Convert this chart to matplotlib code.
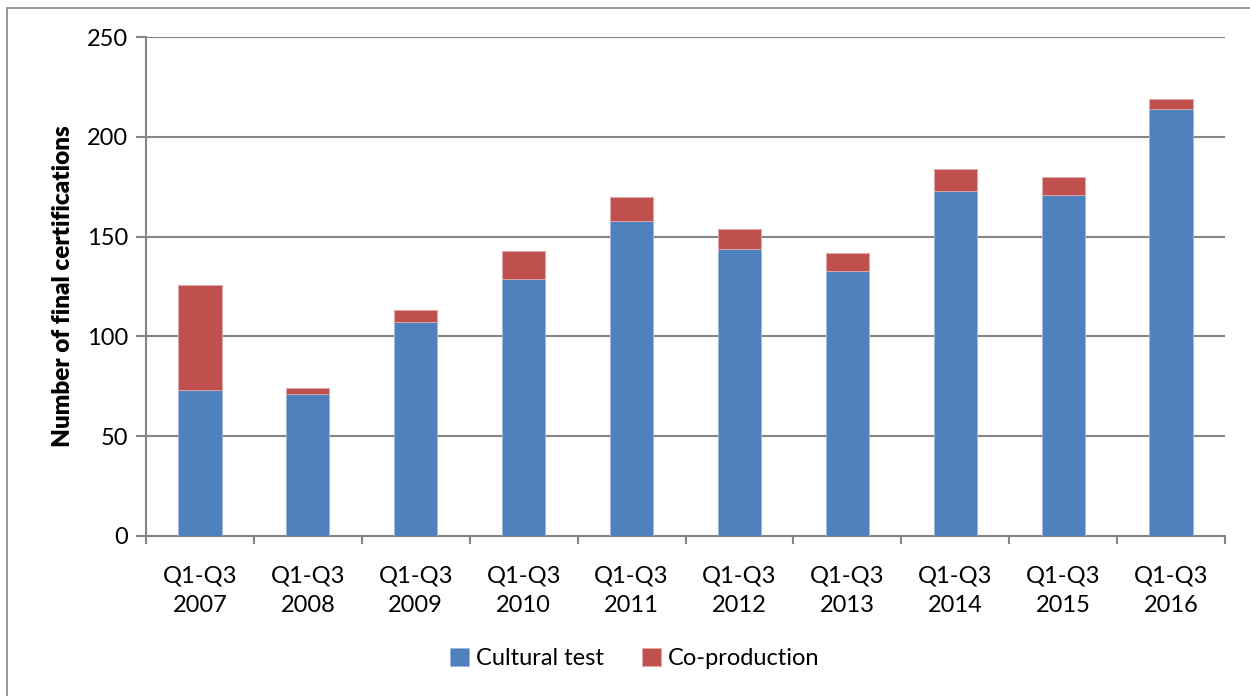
import matplotlib.pyplot as plt
from matplotlib.patches import Rectangle
import numpy as np

periods = ['Q1-Q3\n2007', 'Q1-Q3\n2008', 'Q1-Q3\n2009', 'Q1-Q3\n2010', 'Q1-Q3\n2011',
           'Q1-Q3\n2012', 'Q1-Q3\n2013', 'Q1-Q3\n2014', 'Q1-Q3\n2015', 'Q1-Q3\n2016']
cultural_test = [73, 71, 107, 129, 158, 144, 133, 173, 171, 214]
co_production = [53, 3, 6, 14, 12, 10, 9, 11, 9, 5]

plt.rcParams['font.family'] = ['Lato', 'DejaVu Sans']

fig = plt.figure(figsize=(12.5, 6.96), dpi=100)
ax = fig.add_axes([0.1168, 0.2299, 0.8632, 0.7169])

grey = '#868686'
x = np.arange(len(periods))
ax.bar(x, cultural_test, width=0.4, color='#4F81BD', edgecolor='#9DB7DA', linewidth=0.6,
       label='Cultural test', zorder=3)
ax.bar(x, co_production, width=0.4, bottom=cultural_test, color='#C0504D',
       edgecolor='#E0A9A8', linewidth=0.6, label='Co-production', zorder=3)

ax.set_xlim(-0.5, len(periods) - 0.5)
ax.set_ylim(0, 250)
ax.set_yticks(np.arange(0, 251, 50))
ax.yaxis.grid(True, color=grey, linewidth=1.5)
ax.set_axisbelow(True)

# category labels sit between the boundary ticks
ax.set_xticks(x)
ax.set_xticklabels(periods, fontsize=17, linespacing=1.5)
ax.tick_params(axis='x', which='major', length=0, pad=21)
ax.set_xticks(np.arange(-0.5, len(periods)), minor=True)
ax.tick_params(axis='x', which='minor', length=6, width=1.5, color=grey)
ax.tick_params(axis='y', length=7, width=1.5, color=grey, labelsize=17, pad=6)

for side in ['top', 'right']:
    ax.spines[side].set_visible(False)
for side in ['left', 'bottom']:
    ax.spines[side].set_color(grey)
    ax.spines[side].set_linewidth(1.5)

ax.set_ylabel('Number of final certifications', fontsize=17.5, fontweight='heavy', labelpad=9)

fig.legend(loc='center', bbox_to_anchor=(0.508, 0.054), ncol=2, frameon=False, fontsize=17,
           handlelength=0.8, handleheight=0.8, handletextpad=0.3, columnspacing=1.6)

# chart area border
fig.patches.append(Rectangle((7 / 1250, -0.1), 1.1, 1 - 8 / 696 + 0.1, transform=fig.transFigure,
                             fill=False, edgecolor=grey, linewidth=1.2))

fig.savefig('out.png', dpi=100)
